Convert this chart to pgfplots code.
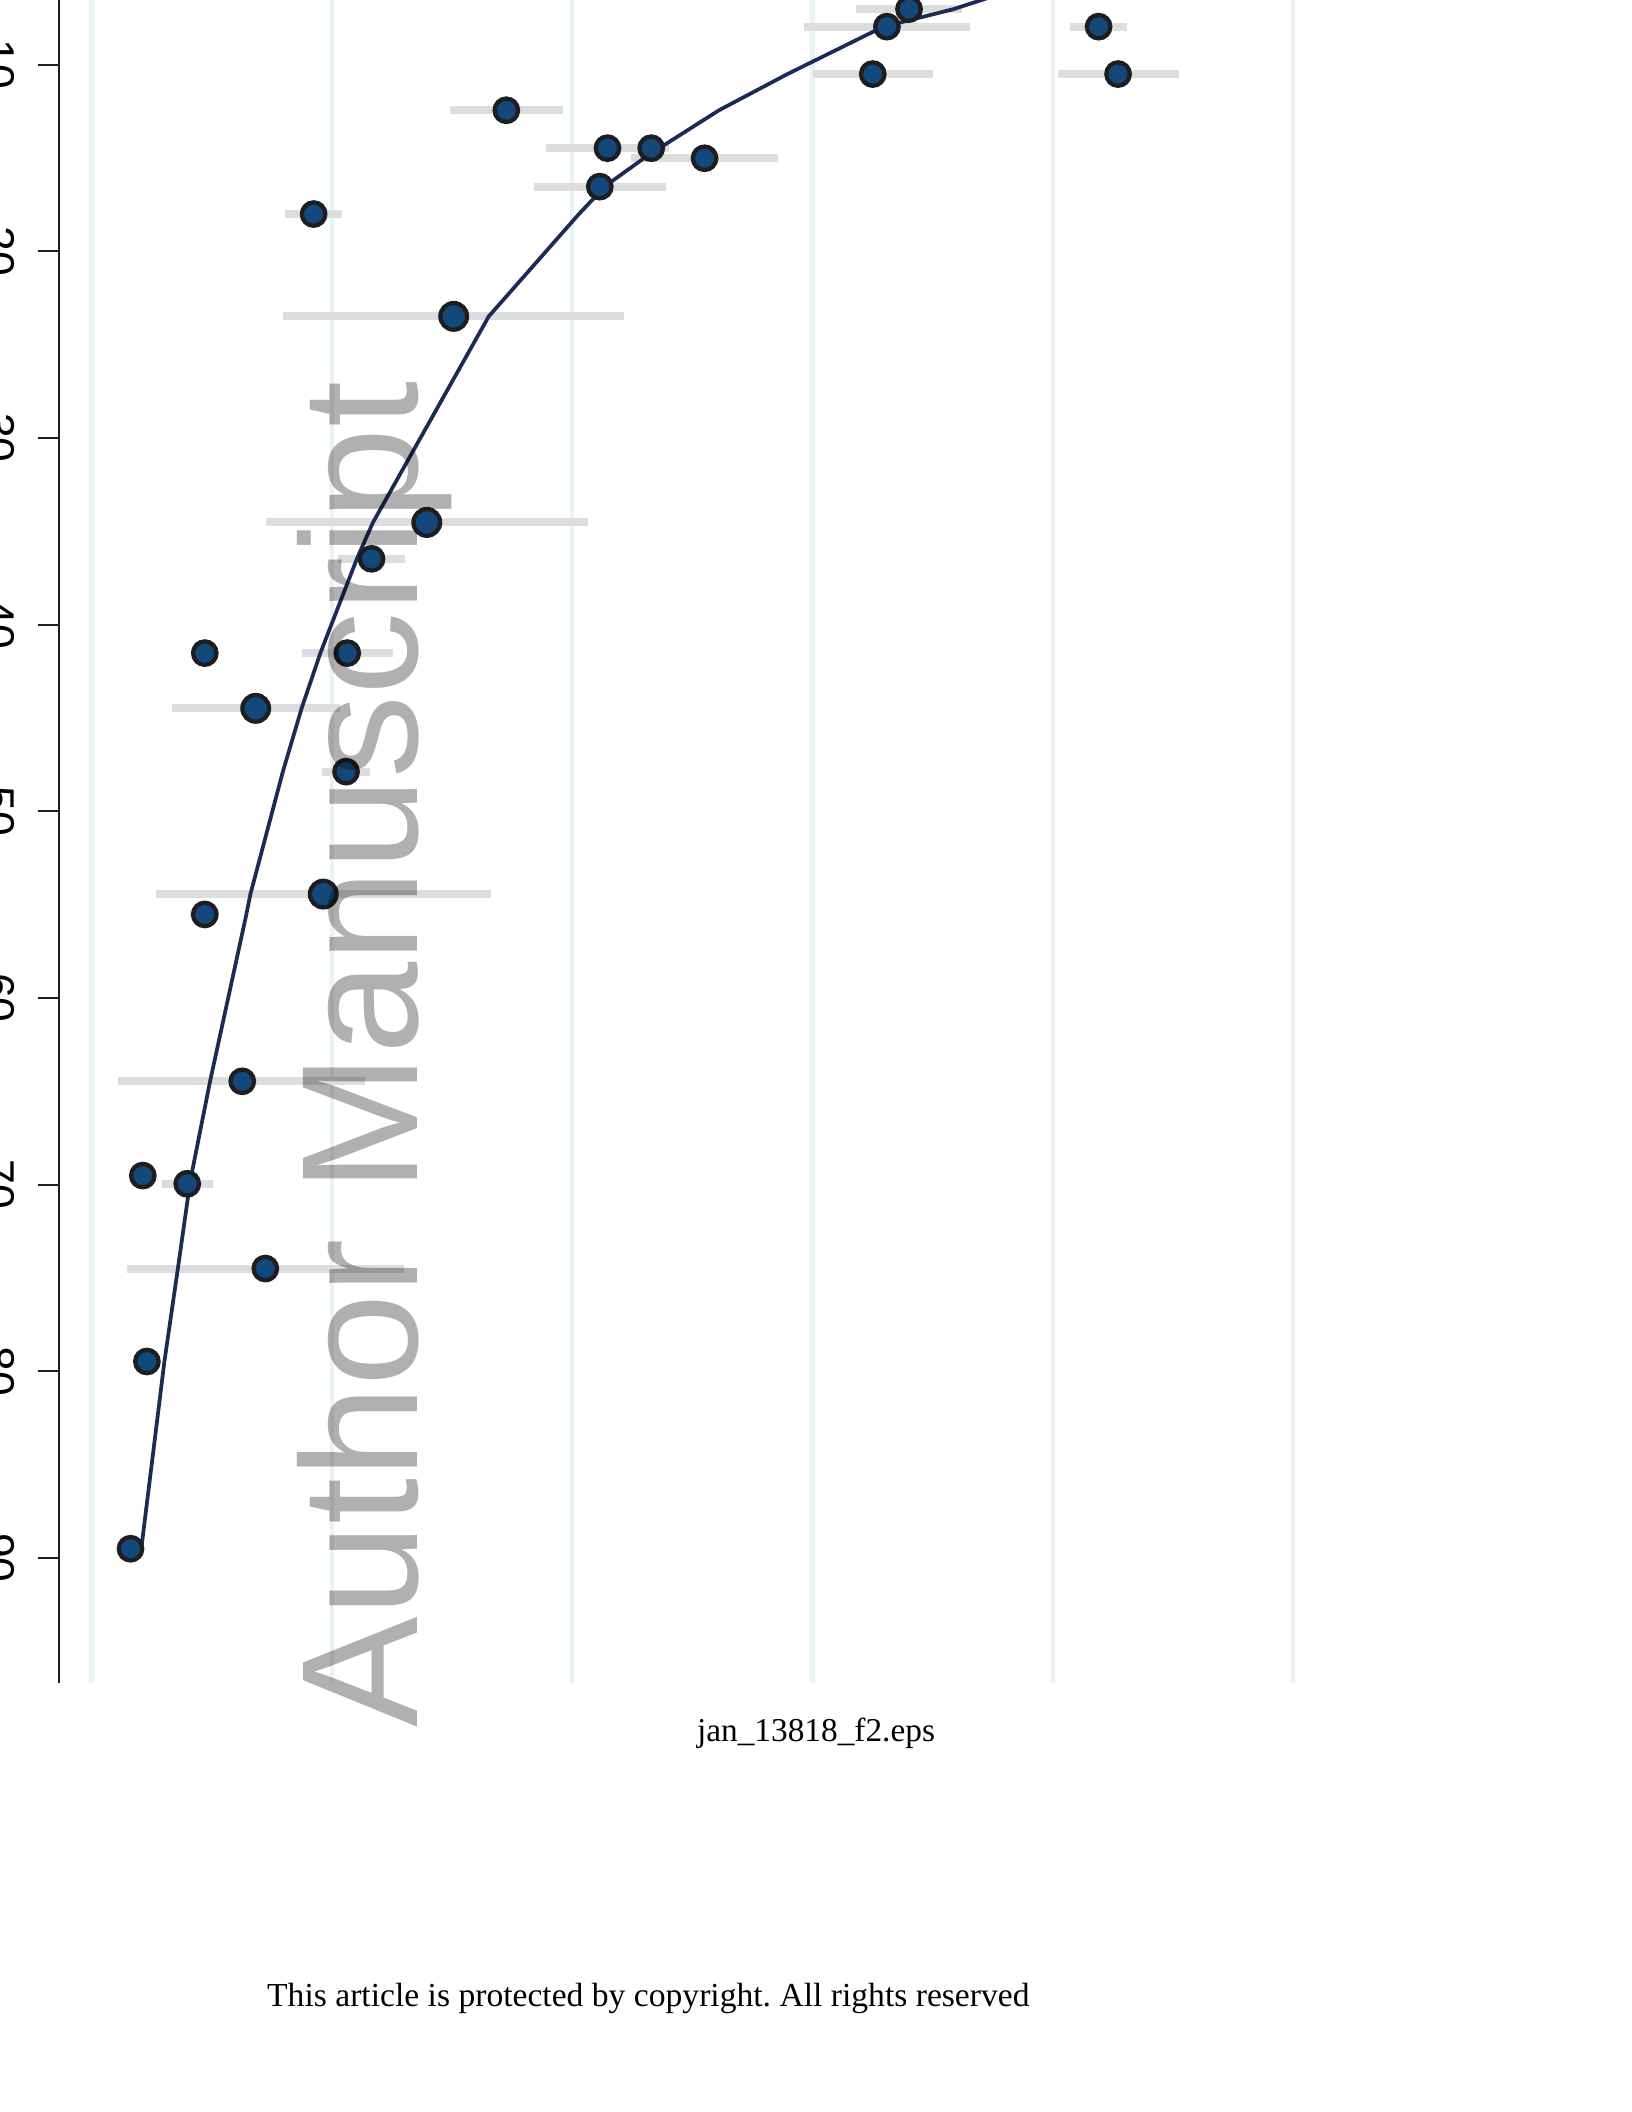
\documentclass[border=0pt]{standalone}
\usepackage{fontspec}
\setmainfont{Liberation Serif}
\newfontfamily\arial{Liberation Sans}
\usepackage{pgfplots}
\pgfplotsset{compat=1.18}
\usepackage{pgfplotstable}
\definecolor{mk}{HTML}{12487A}
\definecolor{mkedge}{HTML}{1E1E22}
\definecolor{fitc}{HTML}{1B2B55}
\definecolor{barc}{HTML}{DCDDDF}
\definecolor{gridc}{HTML}{E9F3F5}
\definecolor{wm}{HTML}{B0B0B0}
\frenchspacing

\pgfplotstableread{
x y em ep
0.162 89.51 0 0
0.230 79.48 0 0
0.213 69.52 0 0
0.398 69.96 0.106 0.106
0.723 74.50 0.577 0.577
0.627 64.47 0.516 0.510
0.471 55.53 0.06 0.06
1.059 47.88 0.10 0.10
0.471 41.53 0 0
1.064 41.53 0.19 0.19
1.165 36.48 0.14 0.14
0.924 18.01 0.12 0.12
1.726 12.45 0.235 0.235
2.115 16.54 0.274 0.274
2.147 14.48 0.255 0.255
2.329 14.48 0.07 0.07
2.551 15.02 0.305 0.305
3.251 10.51 0.25 0.25
3.310 7.97 0.347 0.347
3.402 7.03 0.222 0.222
4.191 7.97 0.119 0.119
4.272 10.51 0.252 0.252
}\ptsN

\pgfplotstableread{
x y em ep
0.964 54.44 0.695 0.70
0.683 44.49 0.35 0.35
1.395 34.53 0.67 0.67
1.507 23.49 0.71 0.71
}\ptsL

\pgfplotstableread{
x y
0.207 89.48
0.303 79.48
0.359 74.50
0.409 69.96
0.415 69.52
0.493 64.47
0.644 55.53
0.661 54.44
0.796 47.88
0.874 44.49
0.952 41.53
1.104 36.48
1.171 34.53
1.653 23.49
2.028 18.01
2.140 16.49
2.303 14.98
2.364 14.47
2.611 12.45
2.896 10.51
3.294 7.98
3.585 7.04
3.877 5.82
}\fitline

\begin{document}
\begin{tikzpicture}
\useasboundingbox (0,0) rectangle (612bp,792bp);
\clip (0,0) rectangle (612bp,792bp);
\begin{axis}[
  at={(22.1bp,160.9bp)}, anchor=south west,
  scale only axis, width=489.8bp, height=676.9bp,
  xmin=-0.136, xmax=5.3,
  ymin=0, ymax=96.7, y dir=reverse,
  axis y line*=left, axis x line*=bottom,
  x axis line style={draw=none},
  y axis line style={-, line width=0.75bp, color=mkedge},
  xtick={0,...,5}, xticklabels={}, xtick style={draw=none},
  xmajorgrids, major x grid style={gridc, line width=1.6bp},
  ytick={10,20,...,90},
  tick align=outside, major tick length=7.9bp,
  ytick style={line width=0.75bp, color=mkedge},
  /pgf/number format/assume math mode=true,
  yticklabel style={font=\arial\fontsize{16.7bp}{20bp}\selectfont, rotate=-90, anchor=north, inner sep=0pt, yshift=-8.4bp},
  clip=false,
]
\addplot[draw=none, mark=none, forget plot,
  error bars/.cd, x dir=both, x explicit,
  error bar style={line width=3bp, color=barc}, error mark=none]
  table[x=x, y=y, x error plus=ep, x error minus=em] {\ptsN};
\addplot[draw=none, mark=none, forget plot,
  error bars/.cd, x dir=both, x explicit,
  error bar style={line width=3bp, color=barc}, error mark=none]
  table[x=x, y=y, x error plus=ep, x error minus=em] {\ptsL};
\addplot[only marks, mark=*, mark size=4.4bp,
  mark options={fill=mk, draw=mkedge, line width=1.6bp}]
  table[x=x, y=y] {\ptsN};
\addplot[only marks, mark=*, mark size=5.0bp,
  mark options={fill=mk, draw=mkedge, line width=1.6bp}]
  table[x=x, y=y] {\ptsL};
\addplot[fitc, line width=1.4bp, no marks] table[x=x, y=y] {\fitline};
\end{axis}
\begin{scope}[blend mode=multiply]
\node[rotate=90, anchor=base west, inner sep=0pt, text=wm,
  font=\arial\fontsize{62.2bp}{70bp}\selectfont] at (156.4bp,144bp) {Author Manuscript};
\end{scope}
\node[anchor=base, inner sep=0pt, font=\fontsize{12.5bp}{15bp}\selectfont] at (306bp,138.9bp) {jan\_13818\_f2.eps};
\node[anchor=base west, inner sep=0pt, font=\fontsize{12.6bp}{15bp}\selectfont] at (100bp,39.4bp) {This article is protected by copyright. All rights reserved};
\end{tikzpicture}
\end{document}
